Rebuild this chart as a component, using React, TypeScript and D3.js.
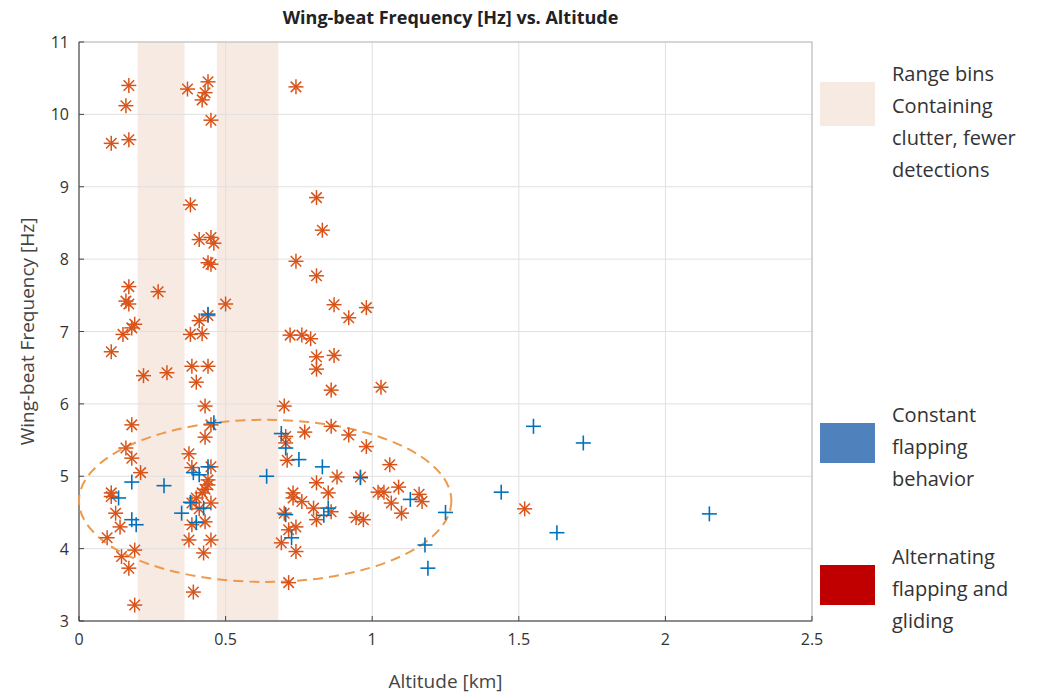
import React from "react";
import * as d3 from "d3";

// orange "*" points: alternating flapping and gliding
const starX = [0.17,0.16,0.17,0.11,0.37,0.43,0.42,0.44,0.45,0.74,0.38,0.41,0.45,0.46,0.44,0.45,0.81,0.83,0.81,0.74,0.17,0.16,0.17,0.27,0.5,0.44,0.41,0.19,0.18,0.15,0.11,0.38,0.42,0.72,0.76,0.79,0.87,0.92,0.98,0.81,0.81,0.87,0.86,1.03,0.22,0.3,0.385,0.44,0.4,0.43,0.7,0.18,0.45,0.43,0.16,0.18,0.21,0.375,0.385,0.45,0.44,0.42,0.385,0.45,0.385,0.43,0.375,0.45,0.425,0.11,0.11,0.125,0.14,0.096,0.19,0.145,0.17,0.19,0.39,0.705,0.705,0.71,0.77,0.86,0.92,0.98,1.06,0.88,0.96,0.81,0.85,0.73,0.73,0.76,0.8,0.86,0.7,0.715,0.74,0.69,0.74,0.81,0.945,0.97,1.02,1.04,1.09,1.065,1.1,0.715,1.17,1.16,1.52,0.4,0.43,0.41,0.44];
const starY = [10.4,10.12,9.65,9.6,10.35,10.3,10.2,10.45,9.92,10.38,8.75,8.27,8.3,8.22,7.95,7.93,8.85,8.4,7.77,7.97,7.62,7.42,7.38,7.55,7.38,7.22,7.15,7.1,7.05,6.96,6.72,6.96,6.97,6.95,6.95,6.9,7.37,7.19,7.33,6.65,6.48,6.67,6.19,6.23,6.39,6.43,6.52,6.52,6.3,5.97,5.97,5.71,5.71,5.54,5.39,5.25,5.05,5.31,5.12,5.13,4.88,4.77,4.63,4.63,4.33,4.37,4.12,4.12,3.94,4.77,4.72,4.49,4.3,4.15,3.98,3.89,3.73,3.22,3.4,5.46,5.55,5.22,5.61,5.69,5.57,5.41,5.16,4.99,4.99,4.91,4.77,4.77,4.7,4.65,4.56,4.51,4.49,4.26,4.3,4.08,3.96,4.4,4.43,4.4,4.78,4.78,4.85,4.63,4.49,3.53,4.65,4.75,4.55,4.7,4.82,4.55,4.95];
// blue "+" points: constant flapping
const plusX = [0.18,0.135,0.18,0.195,0.29,0.35,0.39,0.41,0.44,0.425,0.4,0.38,0.46,0.64,0.69,0.705,0.75,0.83,0.96,0.85,0.835,0.705,0.725,0.44,1.13,1.18,1.19,1.25,1.44,1.55,1.63,1.72,2.15];
const plusY = [4.92,4.7,4.4,4.33,4.87,4.49,5.05,5.02,5.13,4.56,4.36,4.64,5.74,5.0,5.59,5.39,5.23,5.13,4.98,4.56,4.46,4.47,4.15,7.24,4.68,4.05,3.73,4.5,4.78,5.69,4.22,5.46,4.48];
const clutterBins = [[0.2, 0.36], [0.47, 0.68]];
const xTicks = [0, 0.5, 1, 1.5, 2, 2.5];
const yTicks = [3, 4, 5, 6, 7, 8, 9, 10, 11];
const legendItems = [
  { color: "#F7EAE3", lines: ["Range bins", "Containing", "clutter, fewer", "detections"], y: 82 },
  { color: "#4F81BD", lines: ["Constant", "flapping", "behavior"], y: 423 },
  { color: "#C00000", lines: ["Alternating", "flapping and", "gliding"], y: 565 },
];

export default function App() {
  const L = 79, R = 812, T = 42, B = 621;
  const x = d3.scaleLinear().domain([0, 2.5]).range([L, R]);
  const y = d3.scaleLinear().domain([3, 11]).range([B, T]);
  const font = "'Open Sans', sans-serif";
  const orange = "#D95319", blue = "#0072BD";
  const s = 7.5;
  return (
    <svg width={1042} height={694} style={{ position: "absolute", left: 0, top: 0, background: "#fff" }} fontFamily={font}>
      {clutterBins.map(([a, b], i) => (
        <rect key={i} x={x(a)} y={T} width={x(b) - x(a)} height={B - T} fill="#F7EAE3" />
      ))}
      {xTicks.map(t => (
        <line key={"gx" + t} x1={x(t)} x2={x(t)} y1={T} y2={B} stroke="#e0e0e0" />
      ))}
      {yTicks.map(t => (
        <line key={"gy" + t} x1={L} x2={R} y1={y(t)} y2={y(t)} stroke="#e0e0e0" />
      ))}
      <rect x={L} y={T} width={R - L} height={B - T} fill="none" stroke="#bbb" />
      <line x1={L} x2={L} y1={T} y2={B} stroke="#444" />
      <line x1={L} x2={R} y1={B} y2={B} stroke="#444" />
      {xTicks.map(t => (
        <g key={"tx" + t}>
          <line x1={x(t)} x2={x(t)} y1={B} y2={B - 5} stroke="#444" />
          <text x={x(t)} y={B + 24} textAnchor="middle" fontSize={16} fill="#333">{t}</text>
        </g>
      ))}
      {yTicks.map(t => (
        <g key={"ty" + t}>
          <line x1={L} x2={L + 5} y1={y(t)} y2={y(t)} stroke="#444" />
          <text x={L - 10} y={y(t) + 6} textAnchor="end" fontSize={16} fill="#333">{t}</text>
        </g>
      ))}
      <ellipse cx={x(0.635)} cy={y(4.66)} rx={x(1.27) - x(0.635)} ry={y(3.54) - y(4.66)}
        fill="none" stroke="#EE9A4D" strokeWidth={2} strokeDasharray="10,6" />
      {starX.map((v, i) => (
        <g key={"s" + i} transform={`translate(${x(v)},${y(starY[i])})`} stroke={orange} strokeWidth={1.5}>
          <line x1={-s} x2={s} y1={0} y2={0} />
          <line x1={0} x2={0} y1={-s} y2={s} />
          <line x1={-s * 0.7} x2={s * 0.7} y1={-s * 0.7} y2={s * 0.7} />
          <line x1={-s * 0.7} x2={s * 0.7} y1={s * 0.7} y2={-s * 0.7} />
        </g>
      ))}
      {plusX.map((v, i) => (
        <g key={"p" + i} transform={`translate(${x(v)},${y(plusY[i])})`} stroke={blue} strokeWidth={1.6}>
          <line x1={-7.5} x2={7.5} y1={0} y2={0} />
          <line x1={0} x2={0} y1={-7.5} y2={7.5} />
        </g>
      ))}
      <text x={(L + R) / 2 + 5} y={24} textAnchor="middle" fontSize={18} fontWeight="bold" fill="#222">Wing-beat Frequency [Hz] vs. Altitude</text>
      <text x={(L + R) / 2} y={688} textAnchor="middle" fontSize={19} fill="#444">Altitude [km]</text>
      <text transform={`translate(34,${(T + B) / 2}) rotate(-90)`} textAnchor="middle" fontSize={19} fill="#444">Wing-beat Frequency [Hz]</text>
      {legendItems.map(it => (
        <g key={it.lines[0]}>
          <rect x={820} y={it.y} width={55} height={it.y === 82 ? 44 : 40} fill={it.color} />
          {it.lines.map((ln, j) => (
            <text key={j} x={892} y={it.y - 1 + j * 32} fontSize={20} fill="#333">{ln}</text>
          ))}
        </g>
      ))}
    </svg>
  );
}
